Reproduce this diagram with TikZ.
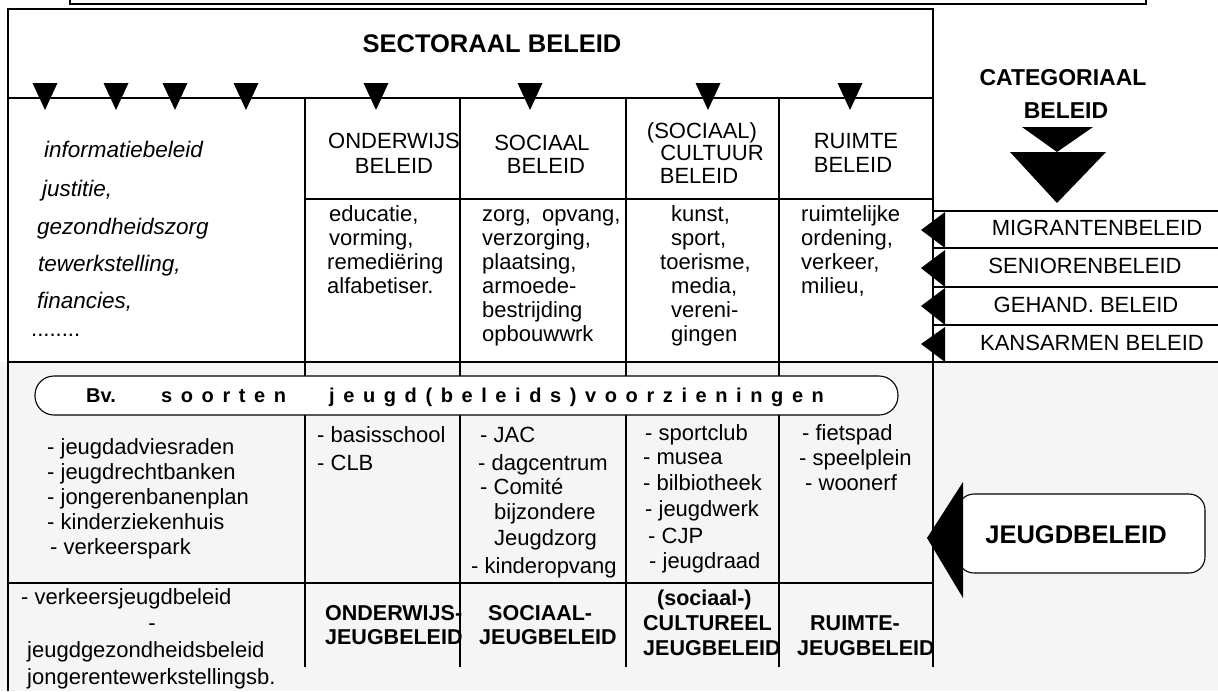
\documentclass[tikz,border=0pt]{standalone}
\usepackage{fontspec}
\setmainfont{Liberation Sans}
\newfontfamily\spacedfont{Liberation Sans}[LetterSpace=43]
\begin{document}
\begin{tikzpicture}[x=1pt,y=-1pt,
  ln/.style={line width=1.1pt},
  txt/.style={inner sep=0pt, anchor=base west, font=\fontsize{22}{24}\selectfont},
  txtc/.style={inner sep=0pt, anchor=base, font=\fontsize{22}{24}\selectfont},
  ital/.style={inner sep=0pt, anchor=base west, font=\fontsize{22.5}{24}\selectfont\itshape},
  bldc/.style={inner sep=0pt, anchor=base, font=\fontsize{21.5}{24}\selectfont\bfseries},
  bldw/.style={inner sep=0pt, anchor=base west, font=\fontsize{21.5}{24}\selectfont\bfseries},
  bigb/.style={inner sep=0pt, anchor=base, font=\fontsize{25.5}{28}\selectfont\bfseries},
  spaced/.style={inner sep=0pt, anchor=base west, font=\fontsize{20}{22}\selectfont\spacedfont\bfseries},
  tri/.style={fill=black}
]
\useasboundingbox (0,0) rectangle (1218,691);
% grey lower background
\fill[black!4] (0,362) rectangle (1218,691);
% top box
\draw[line width=1.8pt] (70,-3) -- (70,4) -- (1146,4) -- (1146,-3);
% main frame
\draw[ln] (8,691) -- (8,9) -- (933,9) -- (933,667);
\draw[ln] (8,98) -- (933,98);
\draw[ln] (305,199) -- (933,199);
\draw[ln] (8,362) -- (1218,362);
\draw[ln] (8,583) -- (933,583);
\foreach \x in {305,460,626,779} \draw[ln] (\x,98) -- (\x,667);
% category rows
\foreach \y in {211,248,287,325} \draw[ln] (933,\y) -- (1218,\y);
% down triangles
\foreach \x in {45,116,175,246,376,530,708,850}
  \fill[tri] (\x-12.5,83) -- (\x+12.5,83) -- (\x,110) -- cycle;
% categorial double triangle
\fill[tri] (1022,127) -- (1093,127) -- (1057,152) -- cycle;
\fill[tri] (1010,152) -- (1106,152) -- (1057,203) -- cycle;
% left triangles
\fill[tri] (945,212) -- (921,230) -- (945,248) -- cycle;
\fill[tri] (945,250) -- (921,268) -- (945,287) -- cycle;
\fill[tri] (945,288) -- (921,306) -- (945,325) -- cycle;
\fill[tri] (945,327) -- (921,344) -- (945,362) -- cycle;
% rounded band
\draw[ln, fill=white, rounded corners=19pt] (35,376) rectangle (898,415);
% jeugdbeleid box and arrow
\draw[ln, fill=white, rounded corners=16pt] (958,494) rectangle (1205,573);
\fill[tri] (963,482) -- (927,538) -- (963,598) -- cycle;

% titles
\node[bigb] (sect) at (492,52) {SECTORAAL BELEID};
\node[inner sep=0pt, anchor=base, font=\fontsize{23}{26}\selectfont\bfseries] (cat1) at (1063,85) {CATEGORIAAL};
\node[inner sep=0pt, anchor=base, font=\fontsize{23}{26}\selectfont\bfseries] (cat2) at (1066,118) {BELEID};
\node[bigb] (jeugd) at (1076,543) {JEUGDBELEID};

% category labels
\node[txtc] (mig) at (1097,235) {MIGRANTENBELEID};
\node[txtc] (sen) at (1085,273) {SENIORENBELEID};
\node[txtc] (geh) at (1086,312) {GEHAND. BELEID};
\node[txtc] (kan) at (1092,350) {KANSARMEN BELEID};

% left italic column
\node[ital] (l1) at (44,157) {informatiebeleid};
\node[ital] (l2) at (42,196) {justitie,};
\node[ital] (l3) at (37,234) {gezondheidszorg};
\node[ital] (l4) at (38,271) {tewerkstelling,};
\node[ital] (l5) at (37,308) {financies,};
\node[txt] (l6) at (31,336) {........};

% column headers
\node[txtc] (h1a) at (394,148) {ONDERWIJS};
\node[txtc] (h1b) at (394,173) {BELEID};
\node[txtc] (h2a) at (542,150) {SOCIAAL};
\node[txtc] (h2b) at (546,173) {BELEID};
\node[txtc] (h3a) at (702,138) {(SOCIAAL)};
\node[txtc] (h3b) at (712,160) {CULTUUR};
\node[txtc] (h3c) at (699,183) {BELEID};
\node[txtc] (h4a) at (856,148) {RUIMTE};
\node[txtc] (h4b) at (853,172) {BELEID};

% column contents
\node[txt] (c1a) at (329,221) {educatie,};
\node[txt] (c1b) at (329,245) {vorming,};
\node[txt] (c1c) at (327,269) {remediëring};
\node[txt] (c1d) at (327,293) {alfabetiser.};
\node[txt] (c2a) at (482,221) {zorg,\hspace{0.5em}opvang,};
\node[txt] (c2b) at (482,245) {verzorging,};
\node[txt] (c2c) at (482,269) {plaatsing,};
\node[txt] (c2d) at (482,293) {armoede-};
\node[txt] (c2e) at (482,317) {bestrijding};
\node[txt] (c2f) at (482,341) {opbouwwrk};
\node[txt] (c3a) at (671,221) {kunst,};
\node[txt] (c3b) at (671,245) {sport,};
\node[txt] (c3c) at (660,269) {toerisme,};
\node[txt] (c3d) at (671,293) {media,};
\node[txt] (c3e) at (671,317) {vereni-};
\node[txt] (c3f) at (671,341) {gingen};
\node[txt] (c4a) at (801,221) {ruimtelijke};
\node[txt] (c4b) at (801,245) {ordening,};
\node[txt] (c4c) at (801,269) {verkeer,};
\node[txt] (c4d) at (801,293) {milieu,};

% band text
\node[inner sep=0pt, anchor=base west, font=\fontsize{20}{22}\selectfont\bfseries] (bv) at (86,402) {Bv.};
\node[spaced] (soort) at (161,402) {soorten};
\node[spaced] (voorz) at (329,402) {jeugd(beleids)voorzieningen};

% youth provisions
\node[txt] (y1a) at (47,454) {- jeugdadviesraden};
\node[txt] (y1b) at (47,479) {- jeugdrechtbanken};
\node[txt] (y1c) at (47,504) {- jongerenbanenplan};
\node[txt] (y1d) at (47,529) {- kinderziekenhuis};
\node[txt] (y1e) at (50,554) {- verkeerspark};
\node[txt] (y2a) at (317,442) {- basisschool};
\node[txt] (y2b) at (317,470) {- CLB};
\node[txt] (y3a) at (480,442) {- JAC};
\node[txt] (y3b) at (478,470) {- dagcentrum};
\node[txt] (y3c) at (480,494) {- Comité};
\node[txt] (y3d) at (494,519) {bijzondere};
\node[txt] (y3e) at (494,545) {Jeugdzorg};
\node[txt] (y3f) at (471,573) {- kinderopvang};
\node[txt] (y4a) at (645,440) {- sportclub};
\node[txt] (y4b) at (643,464) {- musea};
\node[txt] (y4c) at (643,490) {- bilbiotheek};
\node[txt] (y4d) at (645,516) {- jeugdwerk};
\node[txt] (y4e) at (648,543) {- CJP};
\node[txt] (y4f) at (649,568) {- jeugdraad};
\node[txt] (y5a) at (802,440) {- fietspad};
\node[txt] (y5b) at (799,465) {- speelplein};
\node[txt] (y5c) at (805,490) {- woonerf};

% bottom row
\node[txt] (b1a) at (21,604) {- verkeersjeugdbeleid};
\node[txtc] (b1b) at (152,630) {-};
\node[txt] (b1c) at (27,657) {jeugdgezondheidsbeleid};
\node[txt] (b1d) at (27,684) {jongerentewerkstellingsb.};
\node[bldw] (b2a) at (325,620) {ONDERWIJS-};
\node[bldw] (b2b) at (325,644) {JEUGBELEID};
\node[bldw] (b3a) at (488,620) {SOCIAAL-};
\node[bldw] (b3b) at (479,644) {JEUGBELEID};
\node[bldw] (b4a) at (657,605) {(sociaal-)};
\node[bldw] (b4b) at (643,630) {CULTUREEL};
\node[bldw] (b4c) at (643,655) {JEUGBELEID};
\node[bldw] (b5a) at (810,630) {RUIMTE-};
\node[bldw] (b5b) at (797,655) {JEUGBELEID};
\end{tikzpicture}
\end{document}
